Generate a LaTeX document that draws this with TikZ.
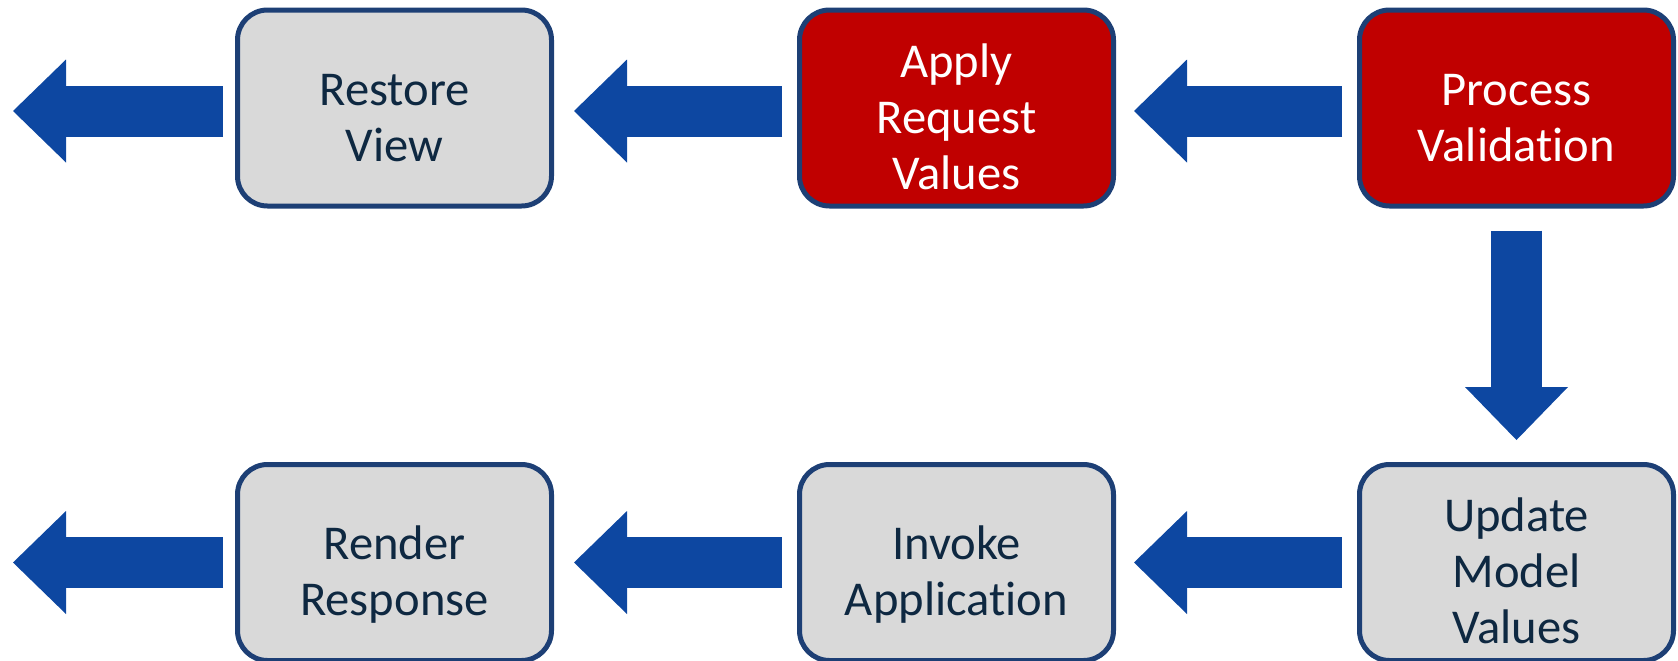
\documentclass[tikz,border=0pt]{standalone}
\usepackage{fontspec}
\setmainfont{Carlito}[Ligatures=NoCommon]
\usepackage{xcolor}
\usepackage{tikz}
\usetikzlibrary{arrows.meta, calc, positioning}

\definecolor{phaseline}{HTML}{1D3F75}
\definecolor{phasegray}{HTML}{D9D9D9}
\definecolor{phasered}{HTML}{C00000}
\definecolor{phasetext}{HTML}{0E2841}
\definecolor{flowblue}{HTML}{0D47A1}

% phase names sit a little below the middle of their boxes
\newcommand{\phasename}[1]{\raisebox{0pt}[\height][\dimexpr\depth-14pt\relax]{\begin{tabular}{@{}c@{}}#1\end{tabular}}}

\tikzset{
  phase/.style={draw=phaseline, line width=2.5pt, rounded corners=15pt, fill=phasegray, text=phasetext,
    minimum width=157pt, minimum height=98pt, inner sep=0pt, font=\fontsize{24.3pt}{28pt}\selectfont},
  hotphase/.style={phase, fill=phasered, text=white},
  flow/.style={draw=flowblue, line width=25.5pt, -{Triangle[length=26.5pt, width=51.5pt, line width=0pt]}}
}

\begin{document}
\begin{tikzpicture}[x=0.5pt, y=-0.5pt]
  \useasboundingbox (0,0) rectangle (1678,660);

  \node[phase] (restore) at (394.5,108) {\phasename{Restore\\View}};
  \node[hotphase] (apply) at (956.5,108) {\phasename{Apply\\Request\\Values}};
  \node[hotphase] (validate) at (1516.5,108) {\phasename{Process\\Validation}};
  \node[phase] (update) at (1516.5,562.5) {\phasename{Update\\Model\\Values}};
  \node[phase] (invoke) at (956.5,562.5) {\phasename{Invoke\\Application}};
  \node[phase] (render) at (394.5,562.5) {\phasename{Render\\Response}};

  \coordinate (out1) at (13,111);
  \coordinate (out2) at (13,562.5);

  \draw[flow] ($(validate.west)+(-15,3)$) -- ($(apply.east)+(18,3)$);
  \draw[flow] ($(apply.west)+(-15,3)$) -- ($(restore.east)+(20,3)$);
  \draw[flow] ($(restore.west)+(-12,3)$) -- (out1);
  \draw[flow] ($(validate.south)+(0,22)$) -- ($(update.north)+(0,-22)$);
  \draw[flow] ($(update.west)+(-15,0)$) -- ($(invoke.east)+(18,0)$);
  \draw[flow] ($(invoke.west)+(-15,0)$) -- ($(render.east)+(20,0)$);
  \draw[flow] ($(render.west)+(-12,0)$) -- (out2);
\end{tikzpicture}
\end{document}
